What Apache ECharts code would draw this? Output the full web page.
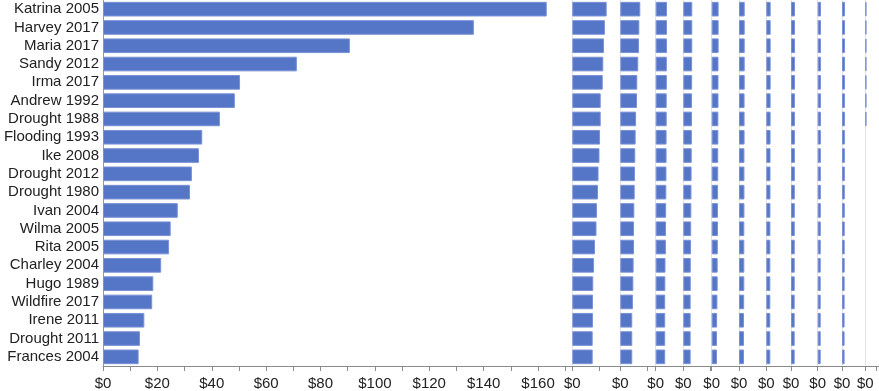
<!DOCTYPE html>
<html>
<head>
<meta charset="utf-8">
<script src="https://cdn.jsdelivr.net/npm/echarts@6/dist/echarts.min.js"></script>
<style>
html,body{margin:0;padding:0;background:#fff;}
#chart{width:879px;height:391px;}
</style>
</head>
<body>
<div id="chart"></div>
<script>
// ---- data ----
const categories = ["Katrina 2005","Harvey 2017","Maria 2017","Sandy 2012","Irma 2017","Andrew 1992","Drought 1988","Flooding 1993","Ike 2008","Drought 2012","Drought 1980","Ivan 2004","Wilma 2005","Rita 2005","Charley 2004","Hugo 1989","Wildfire 2017","Irene 2011","Drought 2011","Frances 2004"];
const panel1 = [163.2,136.4,90.8,71.3,50.4,48.5,43.0,36.5,35.3,32.7,32.0,27.5,24.9,24.3,21.4,18.5,18.1,15.2,13.6,13.1];
const panel2 = [12.65,12.0,11.65,11.4,11.2,10.45,10.45,10.2,10.0,9.65,9.45,9.1,8.9,8.35,8.0,7.7,7.6,7.6,7.5,7.5];
const panel3 = [7.35,7.0,6.9,6.6,6.25,6.15,5.8,5.65,5.5,5.4,5.3,5.15,5.05,5.05,4.9,4.8,4.65,4.4,4.4,4.4];
const panel4 = [4.15,4.15,4.15,4.1,4.1,4.05,4.05,4.0,4.0,3.95,3.9,3.85,3.8,3.75,3.6,3.55,3.5,3.5,3.5,3.5];
const panel5 = [3.3,3.3,3.3,3.25,3.25,3.2,3.2,3.15,3.1,3.05,3.0,2.95,2.9,2.85,2.75,2.75,2.7,2.7,2.7,2.7];
const panel6 = [2.55,2.55,2.55,2.5,2.5,2.5,2.45,2.45,2.4,2.4,2.35,2.3,2.3,2.25,2.2,2.2,2.1,2.0,1.95,1.95];
const panel7 = [2.1,2.1,2.1,2.1,2.1,2.05,2.05,2.05,2.0,2.0,2.0,2.0,1.95,1.95,1.95,1.95,1.9,1.85,1.85,1.85];
const panel8 = [1.6,1.6,1.6,1.6,1.6,1.58,1.58,1.56,1.55,1.54,1.53,1.52,1.51,1.5,1.48,1.48,1.47,1.47,1.47,1.47];
const panel9 = [1.47,1.47,1.47,1.46,1.46,1.45,1.45,1.44,1.43,1.42,1.41,1.4,1.39,1.38,1.37,1.37,1.36,1.36,1.36,1.36];
const panel10 = [1.2,1.2,1.2,1.2,1.19,1.19,1.18,1.17,1.16,1.15,1.15,1.14,1.13,1.12,1.11,1.1,1.1,1.1,1.1,1.1];
const panel11 = [1.1,1.1,1.1,1.09,1.09,1.08,1.08,1.06,1.05,1.04,1.03,1.02,1.0,0.99,0.98,0.97,0.96,0.95,0.95,0.95];
const panel12 = [1.1,1.1,1.1,1.1,1.1,1.1,1.1,null,null,null,null,null,null,null,null,null,null,null,null,null];
const panels = [panel1,panel2,panel3,panel4,panel5,panel6,panel7,panel8,panel9,panel10,panel11,panel12];

// ---- layout (pixels) ----
const edges = [103, 572.3, 620.3, 655.7, 683.3, 711.7, 739, 766.3, 791, 817.7, 842, 865.3, 900];
const PX_PER_DOLLAR = 2.719;
const TOP = 0, BOTTOM = 25;

const barColor = '#5575c6';
const font = '"Liberation Sans", Arial, Helvetica, sans-serif';

const grids = [], xAxes = [], yAxes = [], series = [];
panels.forEach((vals, i) => {
  const left = edges[i], width = edges[i+1] - edges[i];
  grids.push({left: left, width: width, top: TOP, bottom: BOTTOM, containLabel: false});
  const main = i === 0;
  xAxes.push({
    type: 'value', gridIndex: i, min: 0, max: width / PX_PER_DOLLAR, interval: 10,
    splitLine: {show: false},
    axisLine: {show: true, lineStyle: {color: '#8a8a8a', width: 1}},
    axisTick: {show: true, length: 5, lineStyle: {color: '#8a8a8a'}},
    axisLabel: {
      show: true, margin: 10, color: '#222', fontSize: 15, fontFamily: font,
      showMaxLabel: false,
      formatter: main
        ? (v => (Math.abs(v % 20) < 1e-6 && v <= 160) ? '$' + v : '')
        : (v => Math.abs(v) < 1e-6 ? '$0' : '')
    }
  });
  yAxes.push({
    type: 'category', gridIndex: i, data: categories, inverse: true,
    axisLine: {show: true, lineStyle: {color: main ? '#999' : '#e2e2e2', width: 1}},
    axisTick: {show: false},
    axisLabel: {show: main, interval: 0, color: '#222', fontSize: 15, fontFamily: font, margin: 4}
  });
  series.push({
    type: 'bar', xAxisIndex: i, yAxisIndex: i, data: vals,
    barCategoryGap: '20%',
    itemStyle: {color: barColor, borderColor: '#7a91d6', borderWidth: 1},
    silent: true, animation: false
  });
});

const chart = echarts.init(document.getElementById('chart'), null, {renderer: 'canvas'});
chart.setOption({
  animation: false,
  backgroundColor: '#ffffff',
  grid: grids, xAxis: xAxes, yAxis: yAxes, series: series
});
</script>
</body>
</html>
